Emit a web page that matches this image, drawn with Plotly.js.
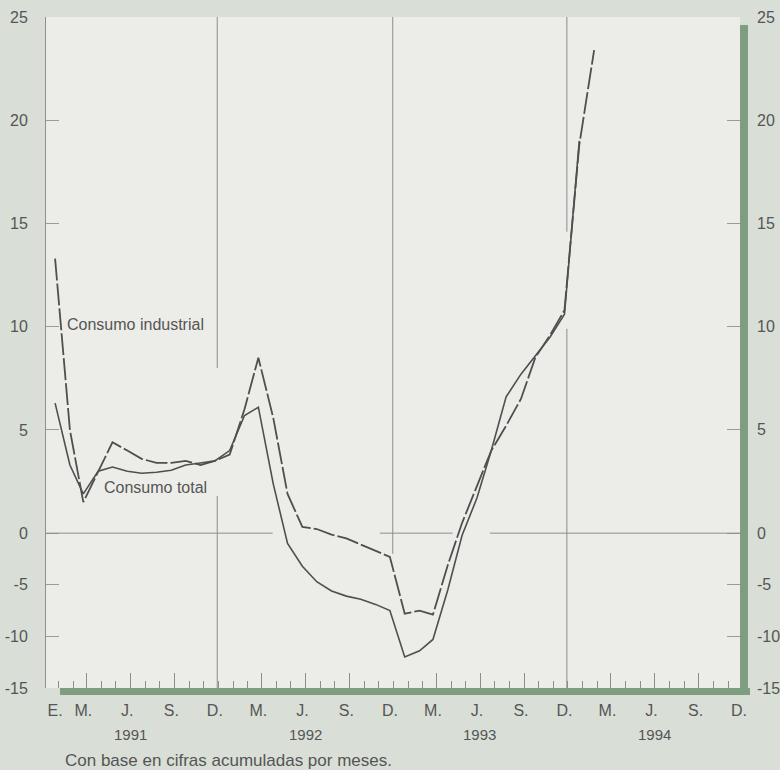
<!DOCTYPE html>
<html>
<head>
<meta charset="utf-8">
<script src="https://cdn.plot.ly/plotly-3.0.1.min.js"></script>
<style>
html,body{margin:0;padding:0;background:#d9dfd7;}
#chart{width:780px;height:770px;}
</style>
</head>
<body>
<div id="chart"></div>
<script>
// ---- data (monthly, Jan 1991 - Feb 1994) ----
const months = [
  "1991-01","1991-02","1991-03","1991-04","1991-05","1991-06","1991-07","1991-08","1991-09","1991-10","1991-11","1991-12",
  "1992-01","1992-02","1992-03","1992-04","1992-05","1992-06","1992-07","1992-08","1992-09","1992-10","1992-11","1992-12",
  "1993-01","1993-02","1993-03","1993-04","1993-05","1993-06","1993-07","1993-08","1993-09","1993-10","1993-11","1993-12",
  "1994-01","1994-02"
];
const consumoIndustrial = [
  13.3, 5.0, 1.5, 3.0, 4.4, 4.0, 3.6, 3.4, 3.4, 3.5, 3.3, 3.5,
  3.8, 6.0, 8.5, 5.6, 1.9, 0.3, 0.2, -0.15, -0.5, -1.1, -1.7, -2.3,
  -7.8, -7.5, -7.9, -3.1, 0.5, 2.3, 4.0, 5.2, 6.5, 8.5, 9.6, 10.8,
  18.8, 23.4
];
const consumoTotal = [
  6.3, 3.3, 1.9, 3.0, 3.2, 3.0, 2.9, 2.95, 3.05, 3.3, 3.4, 3.5,
  4.0, 5.7, 6.1, 2.4, -1.0, -3.2, -4.7, -5.6, -6.1, -6.4, -6.9, -7.5,
  -12.0, -11.4, -10.3, -5.5, -0.2, 1.7, 4.0, 6.6, 7.7, 8.6, 9.5, 10.6,
  19.0
];
// tick labels
const monthTickDates = ["1991-01-01","1991-03-01","1991-06-01","1991-09-01","1991-12-01",
  "1992-03-01","1992-06-01","1992-09-01","1992-12-01",
  "1993-03-01","1993-06-01","1993-09-01","1993-12-01",
  "1994-03-01","1994-06-01","1994-09-01","1994-12-01"];
const monthTickText = ["E.","M.","J.","S.","D.","M.","J.","S.","D.","M.","J.","S.","D.","M.","J.","S.","D."];
const years = ["1991","1992","1993","1994"];
const yearDates = ["1991-06-07","1992-06-07","1993-06-07","1994-06-07"];
const yTickValues = [-15,-10,-5,0,5,10,15,20,25];

// broken scale: negative values drawn at half the scale of positive values
function toAxis(v){ return v === null ? null : (v >= 0 ? v : v/2); }

const lineColor = "#4f4f4f";
const textColor = "#555555";
const gridColor = "#8c8c8c";
const green = "#7f9e80";
const xRange = ["1990-12-13","1994-12-03"];

const traces = [
  {x: months.slice(0, consumoTotal.length), y: consumoTotal.map(toAxis), type:"scatter", mode:"lines",
   line:{color:lineColor, width:1.6}, hoverinfo:"skip", name:"Consumo total"},
  {x: months.slice(0, consumoIndustrial.length), y: consumoIndustrial.map(toAxis), type:"scatter", mode:"lines",
   line:{color:lineColor, width:1.8, dash:"22px,3px"}, hoverinfo:"skip", name:"Consumo industrial"},
  {x:[], y:[], xaxis:"x2", yaxis:"y", type:"scatter", hoverinfo:"skip"},
  {x:[], y:[], xaxis:"x", yaxis:"y2", type:"scatter", hoverinfo:"skip"}
];

const yTickVals = yTickValues.map(toAxis);
const yTickText = yTickValues.map(String);

const tallTicks = ["1991-03-08","1991-06-08","1991-09-08","1992-03-08","1992-06-08","1992-09-08",
  "1993-03-08","1993-06-08","1993-09-08","1994-03-08","1994-06-08","1994-09-08"];

function hLine(x0, x1, y){ return {type:"line", xref:"x", yref:"y", x0:x0, x1:x1, y0:toAxis(y), y1:toAxis(y), line:{color:gridColor, width:1}}; }
function vLine(x, y0, y1){ return {type:"line", xref:"x", yref:"y", x0:x, x1:x, y0:toAxis(y0), y1:toAxis(y1), line:{color:gridColor, width:1}}; }

const shapes = [
  hLine(xRange[0], "1992-03-31", 0),
  hLine("1992-11-10", "1993-04-11", 0),
  hLine("1993-06-28", xRange[1], 0),
  vLine("1991-12-06", 25, 8.0),
  vLine("1991-12-06", 1.8, -15),
  vLine("1992-12-07", 25, -2.0),
  vLine("1993-12-06", 25, 14.6),
  vLine("1993-12-06", 9.9, -15),
  {type:"rect", xref:"paper", yref:"paper", x0:0.0202, x1:1.0144, y0:-0.0104, y1:0, fillcolor:green, line:{width:0}},
  {type:"rect", xref:"paper", yref:"paper", x0:1.0, x1:1.0115, y0:-0.0104, y1:0.988, fillcolor:green, line:{width:0}}
];

const axisFont = {family:"Liberation Sans, Arial, sans-serif", size:16, color:textColor};

const annotations = [
  {text:"Consumo industrial", x:"1991-01-22", y:toAxis(10.1), xref:"x", yref:"y", xanchor:"left", yanchor:"middle", showarrow:false, font:{size:16, color:textColor}},
  {text:"Consumo total", x:"1991-04-10", y:toAxis(2.2), xref:"x", yref:"y", xanchor:"left", yanchor:"middle", showarrow:false, font:{size:16, color:textColor}},
  {text:"Con base en cifras acumuladas por meses.", x:0.0245, y:-0.108, xref:"paper", yref:"paper", xanchor:"left", yanchor:"middle", showarrow:false, font:{size:17, color:textColor}}
];
years.forEach((yr, i) => annotations.push({text:yr, x:yearDates[i], y:-0.070, xref:"x", yref:"paper", xanchor:"center", yanchor:"middle", showarrow:false, font:{size:15, color:textColor}}));
// right-hand scale labels
yTickValues.forEach((v, i) => annotations.push({text:yTickText[i], x:1.022, y:yTickVals[i], xref:"paper", yref:"y", xanchor:"left", yanchor:"middle", showarrow:false, font:axisFont}));

const layout = {
  width:780, height:770,
  margin:{l:46, r:40, t:17, b:82},
  paper_bgcolor:"#d9dfd7",
  plot_bgcolor:"#ecede8",
  font:axisFont,
  showlegend:false,
  hovermode:false,
  xaxis:{type:"date", range:xRange, tickmode:"array", tickvals:monthTickDates, ticktext:monthTickText,
         ticks:"", showgrid:false, zeroline:false, showline:false, tickfont:axisFont, ticklabelstandoff:11, fixedrange:true},
  xaxis2:{type:"date", range:xRange, overlaying:"x", anchor:"y", side:"bottom", tickmode:"array", tickvals:tallTicks,
          ticks:"inside", ticklen:15, tickwidth:1, tickcolor:gridColor, showticklabels:false, showgrid:false, zeroline:false, showline:false,
          minor:{ticks:"inside", ticklen:7, tickwidth:1, tickcolor:gridColor, tick0:"1991-01-08", dtick:"M1", showgrid:false}},
  yaxis:{range:[-7.5, 25], tickmode:"array", tickvals:yTickVals, ticktext:yTickText, ticks:"inside", ticklen:13,
         tickcolor:"#9a9a9a", tickwidth:1, showline:true, linecolor:"#8f8f8f", linewidth:1, showgrid:false, zeroline:false,
         tickfont:axisFont, ticklabelstandoff:14, fixedrange:true},
  yaxis2:{range:[-7.5, 25], overlaying:"y", side:"right", anchor:"x", tickmode:"array", tickvals:yTickVals,
          ticks:"inside", ticklen:13, tickcolor:"#9a9a9a", tickwidth:1, showticklabels:false, showline:false, showgrid:false, zeroline:false,
          fixedrange:true},
  shapes:shapes,
  annotations:annotations
};

Plotly.newPlot("chart", traces, layout, {displayModeBar:false, staticPlot:true});
</script>
</body>
</html>
